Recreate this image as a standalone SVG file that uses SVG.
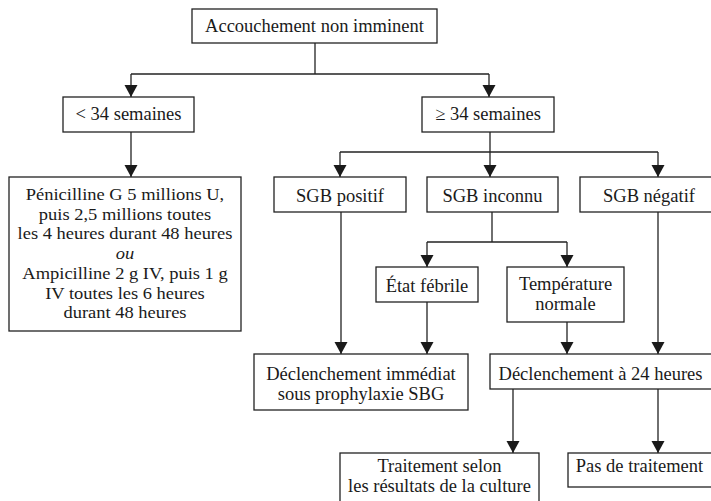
<svg xmlns="http://www.w3.org/2000/svg" width="711" height="501" viewBox="0 0 711 501">
  <style>
    .box { fill: #fff; stroke: #222; stroke-width: 1.3; }
    .lbl { font-family: "Liberation Serif", "Times New Roman", serif; font-size: 18.5px; fill: #1a1a1a; text-anchor: middle; }
    .small { font-size: 16.8px; }
    .it { font-style: italic; }
    .wire { fill: none; stroke: #222; stroke-width: 1.3; }
    .arr { marker-end: url(#head); }
  </style>
  <defs>
    <marker id="head" markerUnits="userSpaceOnUse" markerWidth="14" markerHeight="14" refX="12" refY="6.5" orient="auto">
      <path d="M0,0 L12,6.5 L0,13 Z" fill="#1a1a1a"/>
    </marker>
  </defs>
  <rect width="711" height="501" fill="#fff"/>

  <g id="connectors">
    <!-- root split -->
    <path class="wire" d="M315,43 V74"/>
    <path class="wire" d="M131,74 H489"/>
    <path class="wire arr" d="M131,74 V97"/>
    <path class="wire arr" d="M489,74 V97"/>
    <!-- under 34 weeks -->
    <path class="wire arr" d="M131,132 V177"/>
    <!-- 34 weeks and over -->
    <path class="wire" d="M490,132 V152"/>
    <path class="wire" d="M340,152 H658"/>
    <path class="wire arr" d="M340,152 V177"/>
    <path class="wire arr" d="M490,152 V177"/>
    <path class="wire arr" d="M658,152 V177"/>
    <!-- unknown GBS split -->
    <path class="wire" d="M492,212 V242"/>
    <path class="wire" d="M427,242 H567"/>
    <path class="wire arr" d="M427,242 V267"/>
    <path class="wire arr" d="M567,242 V267"/>
    <!-- to induction boxes -->
    <path class="wire arr" d="M341,212 V354"/>
    <path class="wire arr" d="M427,302 V354"/>
    <path class="wire arr" d="M567,322 V354"/>
    <path class="wire arr" d="M658,212 V354"/>
    <!-- after 24 h induction -->
    <path class="wire arr" d="M513,389 V453"/>
    <path class="wire arr" d="M658,389 V453"/>
  </g>

  <g id="root">
    <rect class="box" x="192" y="9" width="245" height="34"/>
    <text class="lbl" x="314.5" y="32">Accouchement non imminent</text>
  </g>

  <g id="lt34">
    <rect class="box" x="63" y="97" width="131" height="35"/>
    <text class="lbl" x="128.5" y="120">&lt; 34 semaines</text>
  </g>

  <g id="ge34">
    <rect class="box" x="422" y="97" width="132" height="35"/>
    <text class="lbl" x="488" y="120">≥ 34 semaines</text>
  </g>

  <g id="antibio">
    <rect class="box" x="9" y="177" width="232" height="154"/>
    <!-- dosage lines, slightly widened to fill the box -->
    <g transform="translate(125,0) scale(1.1,1) translate(-125,0)">
      <text class="lbl small" x="125" y="200.5">Pénicilline G 5 millions U,</text>
      <text class="lbl small" x="125" y="219.8">puis 2,5 millions toutes</text>
      <text class="lbl small" x="125" y="239.1">les 4 heures durant 48 heures</text>
      <text class="lbl small it" x="125" y="259.5">ou</text>
      <text class="lbl small" x="125" y="279.5">Ampicilline 2 g IV, puis 1 g</text>
      <text class="lbl small" x="125" y="298.8">IV toutes les 6 heures</text>
      <text class="lbl small" x="125" y="318.1">durant 48 heures</text>
    </g>
  </g>

  <g id="sgb-pos">
    <rect class="box" x="274" y="177" width="132" height="35"/>
    <text class="lbl" x="340" y="201.5">SGB positif</text>
  </g>

  <g id="sgb-unk">
    <rect class="box" x="427" y="177" width="131" height="35"/>
    <text class="lbl" x="492.5" y="201.5">SGB inconnu</text>
  </g>

  <g id="sgb-neg">
    <rect class="box" x="580" y="177" width="140" height="35"/>
    <text class="lbl" x="649" y="201.5">SGB négatif</text>
  </g>

  <g id="febrile">
    <rect class="box" x="376" y="267" width="102" height="35"/>
    <text class="lbl" x="427" y="291.5">État fébrile</text>
  </g>

  <g id="temp-normale">
    <rect class="box" x="507" y="267" width="117" height="55"/>
    <text class="lbl" x="565.5" y="290">Température</text>
    <text class="lbl" x="565.5" y="310">normale</text>
  </g>

  <g id="decl-immediat">
    <rect class="box" x="254" y="354" width="214" height="56"/>
    <text class="lbl" x="361" y="380">Déclenchement immédiat</text>
    <text class="lbl" x="361" y="399.5">sous prophylaxie SBG</text>
  </g>

  <g id="decl-24h">
    <rect class="box" x="490" y="354" width="230" height="35"/>
    <text class="lbl" x="600.5" y="380">Déclenchement à 24 heures</text>
  </g>

  <g id="trait-culture">
    <rect class="box" x="340" y="453" width="199" height="56"/>
    <text class="lbl" x="439.5" y="471.5">Traitement selon</text>
    <text class="lbl" x="439.5" y="491.5">les résultats de la culture</text>
  </g>

  <g id="pas-trait">
    <rect class="box" x="568" y="453" width="152" height="34"/>
    <text class="lbl" x="639.5" y="471.5">Pas de traitement</text>
  </g>
</svg>
